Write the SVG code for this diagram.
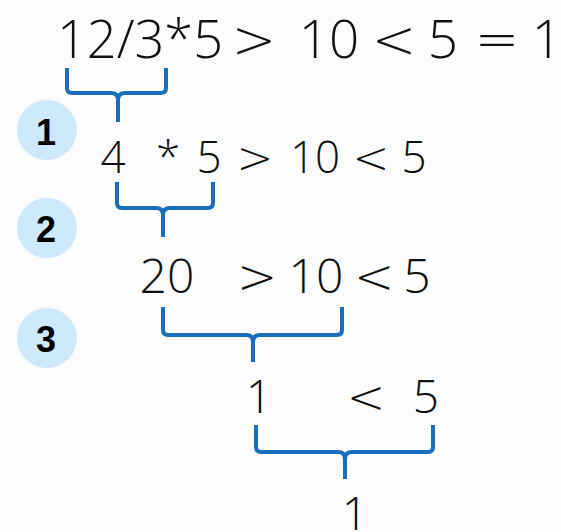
<svg xmlns="http://www.w3.org/2000/svg" width="561" height="532" viewBox="0 0 561 532">
<style>
.t{font-family:"Open Sans","Liberation Sans",sans-serif;font-weight:300;fill:#111;text-anchor:middle}
.o{font-family:"DejaVu Sans","Liberation Sans",sans-serif;font-weight:200;fill:#111;text-anchor:middle}
.n{font-family:"Liberation Sans",Arial,sans-serif;font-weight:bold;font-size:36px;fill:#000;text-anchor:middle}
.c{fill:#cde9fb}
.b{fill:none;stroke:#1a6fbd;stroke-width:4;stroke-linejoin:round}
</style>
<rect width="561" height="532" fill="#fcfcfd"/>
<g id="steps">
<g id="s1"><circle class="c" cx="47" cy="130" r="30"/><text class="n" x="46" y="145">1</text></g>
<g id="s2"><circle class="c" cx="47" cy="228" r="30"/><text class="n" x="46" y="242">2</text></g>
<g id="s3"><circle class="c" cx="47" cy="338" r="30"/><text class="n" x="46" y="352">3</text></g>
</g>
<g id="line1" font-size="53">
<text class="t" x="57" y="58" style="text-anchor:start" textLength="166" lengthAdjust="spacingAndGlyphs">12/3*5</text>
<text class="o" x="254" y="58">&gt;</text><text class="t" x="329" y="58">10</text><text class="o" x="394" y="58">&lt;</text><text class="t" x="443" y="58">5</text><text class="o" x="497" y="58">=</text><text class="t" x="547" y="58">1</text>
</g>
<g id="line2" font-size="44">
<text class="t" x="113" y="173">4</text><text class="t" x="168" y="173">*</text><text class="t" x="209" y="173">5</text><text class="o" x="255" y="173">&gt;</text><text class="t" x="315" y="173">10</text><text class="o" x="371" y="173">&lt;</text><text class="t" x="414" y="173">5</text>
</g>
<g id="line3" font-size="48">
<text class="t" x="167" y="293">20</text><text class="o" x="257" y="293">&gt;</text><text class="t" x="316" y="293">10</text><text class="o" x="374" y="293">&lt;</text><text class="t" x="417" y="293">5</text>
</g>
<g id="line4" font-size="46">
<text class="t" x="259" y="413">1</text><text class="o" x="366" y="413">&lt;</text><text class="t" x="426" y="413">5</text>
</g>
<g id="line5" font-size="46">
<text class="t" x="355" y="530">1</text>
</g>
<g id="connectors">
<path class="b" d="M67 68 V88 Q67 93 72 93 H111 Q118 93 118 100 V122 M166 68 V88 Q166 93 161 93 H125 Q118 93 118 100"/>
<path class="b" d="M117 182 V203 Q117 208 122 208 H156 Q163 208 163 215 V237 M213 182 V203 Q213 208 208 208 H170 Q163 208 163 215"/>
<path class="b" d="M163 307 V330 Q163 335 168 335 H246 Q253 335 253 342 V362 M342 307 V330 Q342 335 337 335 H260 Q253 335 253 342"/>
<path class="b" d="M256 425 V447 Q256 452 261 452 H338 Q345 452 345 459 V479 M433 425 V447 Q433 452 428 452 H352 Q345 452 345 459"/>
</g>
</svg>
